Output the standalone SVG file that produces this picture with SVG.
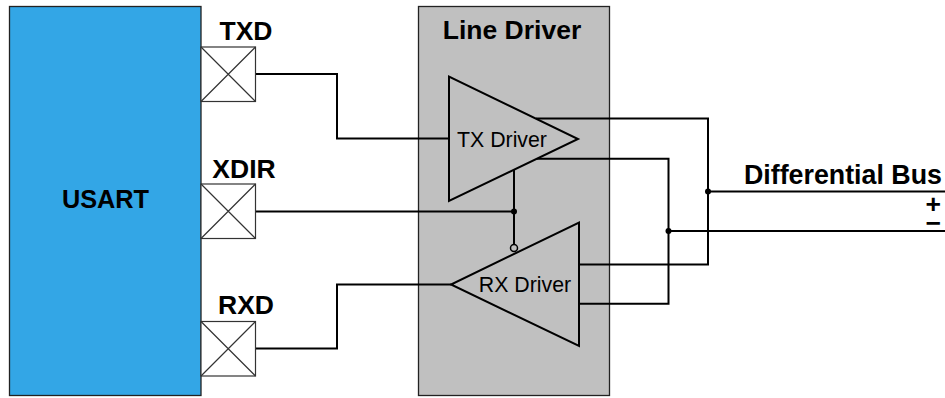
<svg xmlns="http://www.w3.org/2000/svg" width="945" height="398" viewBox="0 0 945 398">
<style>
text{font-family:"Liberation Sans",Arial,sans-serif;fill:#000}
.b{font-weight:bold;font-size:26.500px}
.r{font-size:21.300px}
.w{fill:none;stroke:#000;stroke-width:2}
.box{stroke:#222;stroke-width:1.3}
.pad{fill:#fff;stroke:#333;stroke-width:1.2}
.tri{fill:#c0c0c0;stroke:#000;stroke-width:2}
</style>
<defs><g id="padshape"><rect class="pad" x="0" y="0" width="54.5" height="54.5"/><path class="pad" d="M0 0L54.5 54.5M54.5 0L0 54.5"/></g></defs>
<rect width="945" height="398" fill="#fff"/>
<g id="usart"><rect class="box" x="9.5" y="6.5" width="191.5" height="389" fill="#33a6e6"/><text class="b" x="105.500" y="208" text-anchor="middle" style="font-size:25.300px">USART</text></g>
<g id="line-driver"><rect class="box" x="418.5" y="6.5" width="191" height="389" fill="#c0c0c0"/><text class="b" x="512" y="39" text-anchor="middle">Line Driver</text></g>
<g id="connectors">
<path class="w" d="M255.5 74H337V138.500H449"/>
<path class="w" d="M255.5 211.500H514"/>
<path class="w" d="M514 170V244"/>
<path class="w" d="M255.500 348.500H337V284.500H451"/>
<path class="w" d="M536 118.500H708V264.500H579"/>
<path class="w" d="M537 158.700H668.500V303.700H579"/>
<path class="w" d="M708 191.500H945"/>
<path class="w" d="M668.500 231H945"/>
<circle cx="514" cy="211.500" r="3"/><circle cx="708" cy="191.500" r="3"/><circle cx="668.500" cy="231" r="3"/>
</g>
<g id="txd"><use href="#padshape" x="201" y="47"/><text class="b" x="246" y="40" text-anchor="middle">TXD</text></g>
<g id="xdir"><use href="#padshape" x="201" y="184"/><text class="b" x="244" y="178" text-anchor="middle">XDIR</text></g>
<g id="rxd"><use href="#padshape" x="201" y="321.500"/><text class="b" x="246" y="314" text-anchor="middle">RXD</text></g>
<g id="tx-driver"><path class="tri" d="M449 76.500V201L578 139Z"/><text class="r" x="502" y="147" text-anchor="middle">TX Driver</text></g>
<g id="rx-driver"><path class="tri" d="M579 222.500V346L451 284.500Z"/><circle cx="514" cy="248" r="3.500" fill="#c0c0c0" stroke="#000" stroke-width="1.500"/><text class="r" x="525" y="292" text-anchor="middle">RX Driver</text></g>
<g id="bus"><text class="b" x="942" y="184" text-anchor="end" style="font-size:26.800px">Differential Bus</text><text class="b" text-anchor="end"><tspan x="941" y="213">+</tspan><tspan x="941" y="232">−</tspan></text></g>
</svg>
